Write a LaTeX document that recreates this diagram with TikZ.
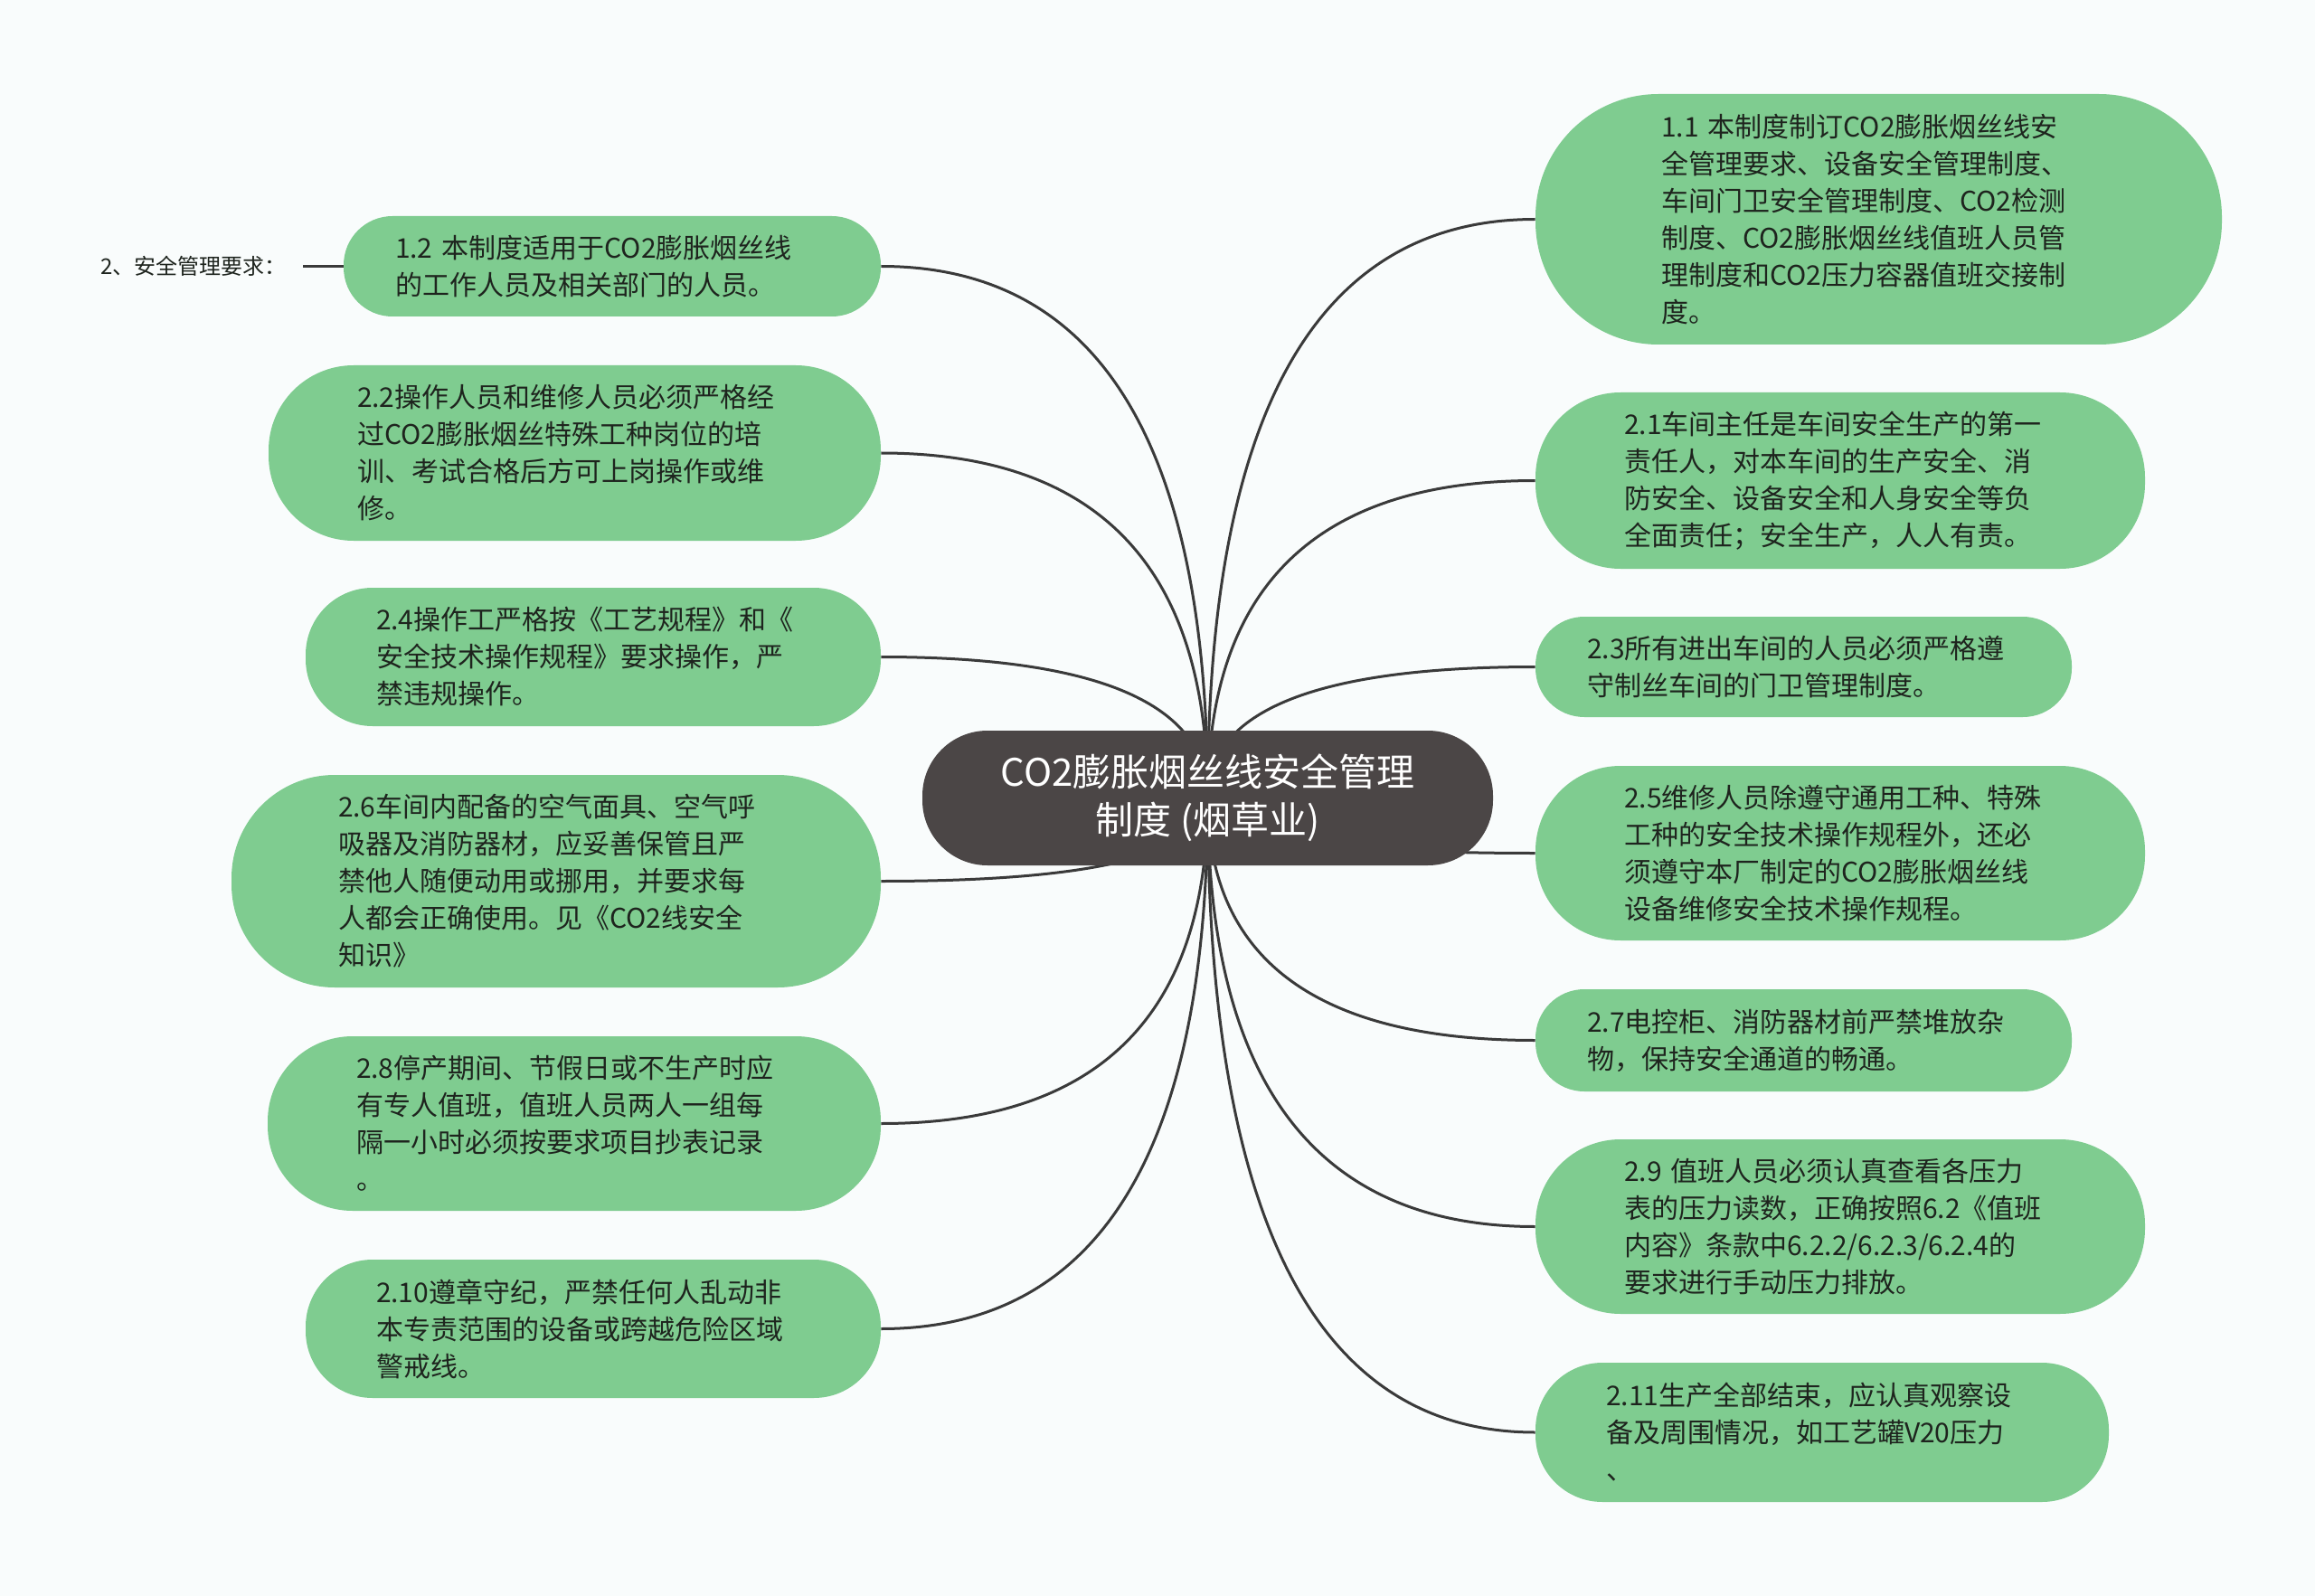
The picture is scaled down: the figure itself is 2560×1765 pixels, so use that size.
\documentclass[tikz,border=0pt]{standalone}
\usepackage{fontspec}
\setmainfont{Noto Sans CJK SC}
\usetikzlibrary{calc}
\definecolor{leafgreen}{HTML}{7FCC90}
\definecolor{rootfill}{HTML}{4B4646}
\definecolor{connclr}{HTML}{3A3A3A}
\definecolor{bgclr}{HTML}{F9FCFC}
\definecolor{txtclr}{HTML}{1E241E}
\pgfdeclarelayer{background}
\pgfsetlayers{background,main}
\tikzset{
  leaf/.style={fill=leafgreen, text=txtclr, align=left, inner ysep=0pt,
    font=\fontsize{15pt}{20.5pt}\selectfont},
  rootnode/.style={fill=rootfill, text=white, align=center, inner sep=0pt,
    font=\fontsize{21pt}{26.5pt}\selectfont, minimum width=315.5pt,
    minimum height=74.5pt, rounded corners=36pt},
  sidelabel/.style={text=txtclr, inner xsep=9pt, inner ysep=0pt,
    font=\fontsize{12pt}{13pt}\selectfont},
  conn/.style={draw=connclr, line width=1.5pt}
}
\begin{document}
\begin{tikzpicture}[x=0.5pt,y=-0.5pt]
\useasboundingbox (0,0) rectangle (2560,1765);

\node[rootnode] (ctr) at (1335.5,882.5) {CO2膨胀烟丝线安全管理\\制度~(烟草业)};

% left side
\node[leaf, minimum width=297pt, minimum height=55.5pt, inner xsep=28.5pt, text width=240pt, rounded corners=27pt]
  (L1) at (677,294.5) {1.2~本制度适用于CO2膨胀烟丝线\\的工作人员及相关部门的人员。};
\node[leaf, minimum width=338.5pt, minimum height=97pt, inner xsep=49pt, text width=240.5pt, rounded corners=47pt]
  (L2) at (635.5,501) {2.2操作人员和维修人员必须严格经\\过CO2膨胀烟丝特殊工种岗位的培\\训、考试合格后方可上岗操作或维\\修。};
\node[leaf, minimum width=318pt, minimum height=76.5pt, inner xsep=39pt, text width=240pt, rounded corners=37pt]
  (L3) at (656,726.5) {2.4操作工严格按《工艺规程》和《\\安全技术操作规程》要求操作，严\\禁违规操作。};
\node[leaf, minimum width=359pt, minimum height=117.5pt, inner xsep=59pt, text width=241pt, rounded corners=57pt]
  (L4) at (615,974.5) {2.6车间内配备的空气面具、空气呼\\吸器及消防器材，应妥善保管且严\\禁他人随便动用或挪用，并要求每\\人都会正确使用。见《CO2线安全\\知识》};
\node[leaf, minimum width=339pt, minimum height=96.5pt, inner xsep=49pt, text width=241pt, rounded corners=47pt]
  (L5) at (635,1242.5) {2.8停产期间、节假日或不生产时应\\有专人值班，值班人员两人一组每\\隔一小时必须按要求项目抄表记录\\。};
\node[leaf, minimum width=318pt, minimum height=76.5pt, inner xsep=39pt, text width=240pt, rounded corners=37pt]
  (L6) at (656,1469.5) {2.10遵章守纪，严禁任何人乱动非\\本专责范围的设备或跨越危险区域\\警戒线。};

% right side
\node[leaf, minimum width=379.5pt, minimum height=138.5pt, inner xsep=69.5pt, text width=240.5pt, rounded corners=68pt]
  (R1) at (2077.5,242.5) {1.1~本制度制订CO2膨胀烟丝线安\\全管理要求、设备安全管理制度、\\车间门卫安全管理制度、CO2检测\\制度、CO2膨胀烟丝线值班人员管\\理制度和CO2压力容器值班交接制\\度。};
\node[leaf, minimum width=337pt, minimum height=97.5pt, inner xsep=49pt, text width=239pt, rounded corners=47pt]
  (R2) at (2035,531.5) {2.1车间主任是车间安全生产的第一\\责任人，对本车间的生产安全、消\\防安全、设备安全和人身安全等负\\全面责任；安全生产，人人有责。};
\node[leaf, minimum width=296.5pt, minimum height=55.5pt, inner xsep=28.5pt, text width=239.5pt, rounded corners=27pt]
  (R3) at (1994.5,737.5) {2.3所有进出车间的人员必须严格遵\\守制丝车间的门卫管理制度。};
\node[leaf, minimum width=337pt, minimum height=96.5pt, inner xsep=49pt, text width=239pt, rounded corners=47pt]
  (R4) at (2035,943.5) {2.5维修人员除遵守通用工种、特殊\\工种的安全技术操作规程外，还必\\须遵守本厂制定的CO2膨胀烟丝线\\设备维修安全技术操作规程。};
\node[leaf, minimum width=296.5pt, minimum height=56.5pt, inner xsep=28.5pt, text width=239.5pt, rounded corners=27pt]
  (R5) at (1994.5,1150.5) {2.7电控柜、消防器材前严禁堆放杂\\物，保持安全通道的畅通。};
\node[leaf, minimum width=337pt, minimum height=96.5pt, inner xsep=49pt, text width=239pt, rounded corners=47pt]
  (R6) at (2035,1356.5) {2.9~值班人员必须认真查看各压力\\表的压力读数，正确按照6.2《值班\\内容》条款中6.2.2/6.2.3/6.2.4的\\要求进行手动压力排放。};
\node[leaf, minimum width=317pt, minimum height=77pt, inner xsep=39pt, text width=239pt, rounded corners=37pt]
  (R7) at (2015,1584) {2.11生产全部结束，应认真观察设\\备及周围情况，如工艺罐V20压力\\、};

\node[sidelabel, anchor=east] (lab) at (335,294.5) {2、安全管理要求：};

\begin{pgfonlayer}{background}
  \fill[bgclr] (0,0) rectangle (2560,1765);
  \foreach \n/\a in {L1/east,L2/east,L3/east,L4/east,L5/east,L6/east,
                     R1/west,R2/west,R3/west,R4/west,R5/west,R6/west,R7/west}{
    \draw[conn] (ctr.center) .. controls ($(ctr.center)!0.6667!(ctr.center |- \n.\a)$)
      and ($(\n.\a)!0.6667!(ctr.center |- \n.\a)$) .. (\n.\a);
  }
  \draw[conn] (lab.east) -- (L1.west);
\end{pgfonlayer}
\end{tikzpicture}
\end{document}
